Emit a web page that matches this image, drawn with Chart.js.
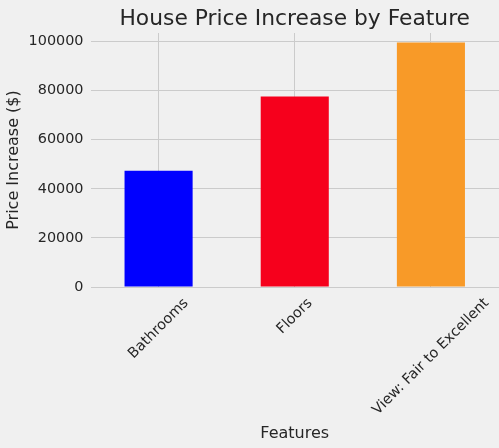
<!DOCTYPE html>
<html>
<head>
<meta charset="utf-8">
<script src="https://cdn.jsdelivr.net/npm/chart.js@4/dist/chart.umd.min.js"></script>
<style>
  html, body { margin: 0; padding: 0; background: #f0f0f0; }
  #wrap { width: 499px; height: 448px; }
</style>
</head>
<body>
<div id="wrap"><canvas id="c" width="499" height="448"></canvas></div>
<script>
const categories = ["Bathrooms", "Floors", "View: Fair to Excellent"];
const priceIncrease = [47400, 77600, 99600];
const barColors = ["#0000ff", "#f6001c", "#f89a28"];
const yTickValues = [0, 20000, 40000, 60000, 80000, 100000];
const chartTitle = "House Price Increase by Feature";
const xTitle = "Features";
const yTitle = "Price Increase ($)";

const FONT = "'DejaVu Sans', sans-serif";
const TEXT = "#262626";

const bgPlugin = {
  id: "bg",
  beforeDraw(chart) {
    const ctx = chart.ctx;
    ctx.save();
    ctx.fillStyle = "#f0f0f0";
    ctx.fillRect(0, 0, chart.width, chart.height);
    ctx.restore();
  }
};

const labelPlugin = {
  id: "labels",
  afterDraw(chart) {
    const ctx = chart.ctx;
    const area = chart.chartArea;
    const xs = chart.scales.x;
    ctx.save();
    ctx.fillStyle = TEXT;
    ctx.font = "21.8px " + FONT;
    ctx.textAlign = "center";
    ctx.textBaseline = "alphabetic";
    ctx.fillText(chartTitle, (area.left + area.right) / 2, 25);
    const fs = 14.4;
    ctx.font = fs + "px " + FONT;
    ctx.textBaseline = "middle";
    const s = Math.SQRT1_2;
    categories.forEach((lab, i) => {
      const x = xs.getPixelForValue(i);
      const w = ctx.measureText(lab).width;
      const h = fs * 1.17;
      const half = (w + h) * s / 2;
      const cy = area.bottom + 8 + half;
      ctx.save();
      ctx.translate(x, cy);
      ctx.rotate(-Math.PI / 4);
      ctx.fillText(lab, 0, 0);
      ctx.restore();
    });
    ctx.restore();
  }
};

new Chart(document.getElementById("c"), {
  type: "bar",
  data: {
    labels: categories,
    datasets: [{
      data: priceIncrease,
      backgroundColor: barColors,
      borderWidth: 0,
      barPercentage: 0.5,
      categoryPercentage: 1.0
    }]
  },
  options: {
    responsive: false,
    animation: false,
    devicePixelRatio: 1,
    layout: { padding: { top: 33, right: -2.5, left: 0, bottom: 0 } },
    plugins: {
      legend: { display: false },
      title: { display: false },
      tooltip: { enabled: false }
    },
    scales: {
      x: {
        offset: true,
        grid: { display: true, offset: false, drawTicks: false, color: "#cbcbcb", lineWidth: 1 },
        border: { display: false },
        ticks: { display: false },
        title: {
          display: true, text: xTitle, color: TEXT,
          font: { family: FONT, size: 16 },
          padding: { top: 4, bottom: 5 }
        },
        afterFit(scale) { scale.height = 161; }
      },
      y: {
        min: 0,
        max: 103500,
        grid: { display: true, drawTicks: false, color: "#cbcbcb", lineWidth: 1 },
        border: { display: false },
        afterBuildTicks(scale) { scale.ticks = yTickValues.map(v => ({ value: v })); },
        ticks: {
          padding: 7,
          color: TEXT,
          font: { family: FONT, size: 14.4 },
          callback: (v) => String(v)
        },
        title: {
          display: true, text: yTitle, color: TEXT,
          font: { family: FONT, size: 16 },
          padding: { top: 4, bottom: 4 }
        },
        afterFit(scale) { scale.width = 90.5; }
      }
    }
  },
  plugins: [bgPlugin, labelPlugin]
});
</script>
</body>
</html>
